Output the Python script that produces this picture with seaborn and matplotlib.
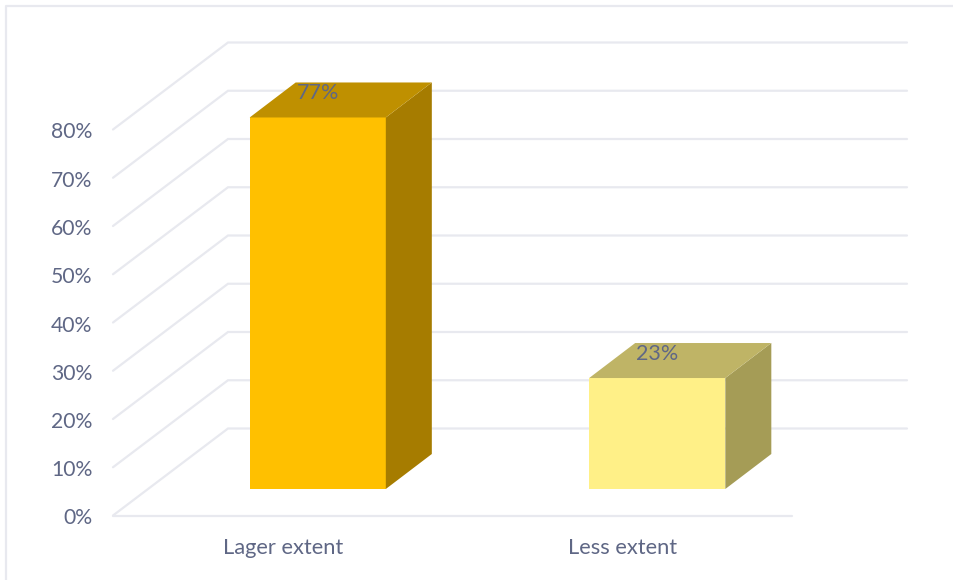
import matplotlib
matplotlib.use("Agg")
import matplotlib.pyplot as plt
import seaborn as sns
import pandas as pd
from matplotlib.patches import Polygon
from matplotlib.lines import Line2D
from matplotlib.transforms import Affine2D

categories = ["Lager extent", "Less extent"]
values = [77, 23]
labels = ["77%", "23%"]
yticks = [0, 10, 20, 30, 40, 50, 60, 70, 80]
front_colors = ["#FFC000", "#FFF087"]
top_colors = ["#BF9000", "#BFB466"]
side_colors = ["#A67C00", "#A59C56"]
GRID = "#E8E9EF"
TEXT = "#5F6785"

W, H = 954, 580
sns.set_theme(style="white")
plt.rcParams["font.family"] = ["Lato", "DejaVu Sans"]
fig = plt.figure(figsize=(W / 100, H / 100), dpi=100)
fig.patch.set_facecolor("white")

# front plane of the 3D box: x 113..792, y 515.5 (0%) .. 129.5 (80%), in pixels from top
ax = fig.add_axes([113 / W, 1 - 515.5 / H, 679 / W, 386 / H])
df = pd.DataFrame({"cat": categories, "val": values})
sns.barplot(data=df, x="cat", y="val", hue="cat", palette=front_colors, legend=False,
            width=0.401, ax=ax, zorder=5, saturation=1)
ax.set_xlim(-0.5, 1.5)
ax.set_ylim(0, 80)
ax.set_xlabel("")
ax.set_ylabel("")
ax.set_yticks(yticks)
ax.set_yticklabels([f"{t}%" for t in yticks])
ax.tick_params(axis="y", length=0, pad=15, labelsize=15.2, labelcolor=TEXT)
ax.tick_params(axis="x", length=0, pad=16, labelsize=15.75, labelcolor=TEXT)
for lab in ax.get_yticklabels():
    lab.set_transform(lab.get_transform() + Affine2D().translate(0, -1))
for s in ax.spines.values():
    s.set_visible(False)
ax.patch.set_alpha(0)

# pixel offsets (x right, y up) used for depth
wall = (115, 87)         # back wall relative to the front plane
bar_off = (35, 26.5)     # bar front face relative to the front plane
bar_depth = (46, 35)     # bar depth

# gridlines: front edge -> back wall -> right along the wall
x0, x1 = ax.get_xlim()
to_wall = ax.transData + Affine2D().translate(*wall)
for t in yticks:
    a = ax.transData.transform((x0, t))
    b = to_wall.transform((x0, t))
    c = to_wall.transform((x1, t))
    fig.add_artist(Line2D([a[0] / W, b[0] / W, c[0] / W], [a[1] / H, b[1] / H, c[1] / H],
                          color=GRID, lw=1.6, transform=fig.transFigure, zorder=0,
                          solid_joinstyle="miter"))
ax.add_line(Line2D([x0, x1], [0, 0], color=GRID, lw=1.6, clip_on=False, zorder=1))

# bars: shift into the box and add side and top faces
shift = Affine2D().translate(*bar_off)
dx, dy = bar_depth
for patch, top_c, side_c, lab in zip(ax.patches, top_colors, side_colors, labels):
    patch.set_transform(ax.transData + shift)
    patch.set_clip_on(False)
    patch.set_linewidth(0)
    x, w, h = patch.get_x(), patch.get_width(), patch.get_height()
    l, bot = (ax.transData + shift).transform((x, 0))
    r, top = (ax.transData + shift).transform((x + w, h))
    side = Polygon([(r, bot), (r + dx, bot + dy), (r + dx, top + dy), (r, top)],
                   closed=True, fc=side_c, ec="none", transform=None, zorder=6, clip_on=False)
    roof = Polygon([(l, top), (r, top), (r + dx, top + dy), (l + dx, top + dy)],
                   closed=True, fc=top_c, ec="none", transform=None, zorder=6, clip_on=False)
    ax.add_artist(side)
    ax.add_artist(roof)
    ax.text((l + r) / 2 / W, (top + 24) / H, lab, transform=fig.transFigure, ha="center",
            va="center", fontsize=15.5, color=TEXT, zorder=8)

# outer frame: left and top edges
fig.add_artist(Line2D([6 / W, 6 / W, 1], [0, 1 - 6 / H, 1 - 6 / H], color=GRID, lw=1.6,
                      transform=fig.transFigure, zorder=0))

fig.savefig("out.png", dpi=100)
